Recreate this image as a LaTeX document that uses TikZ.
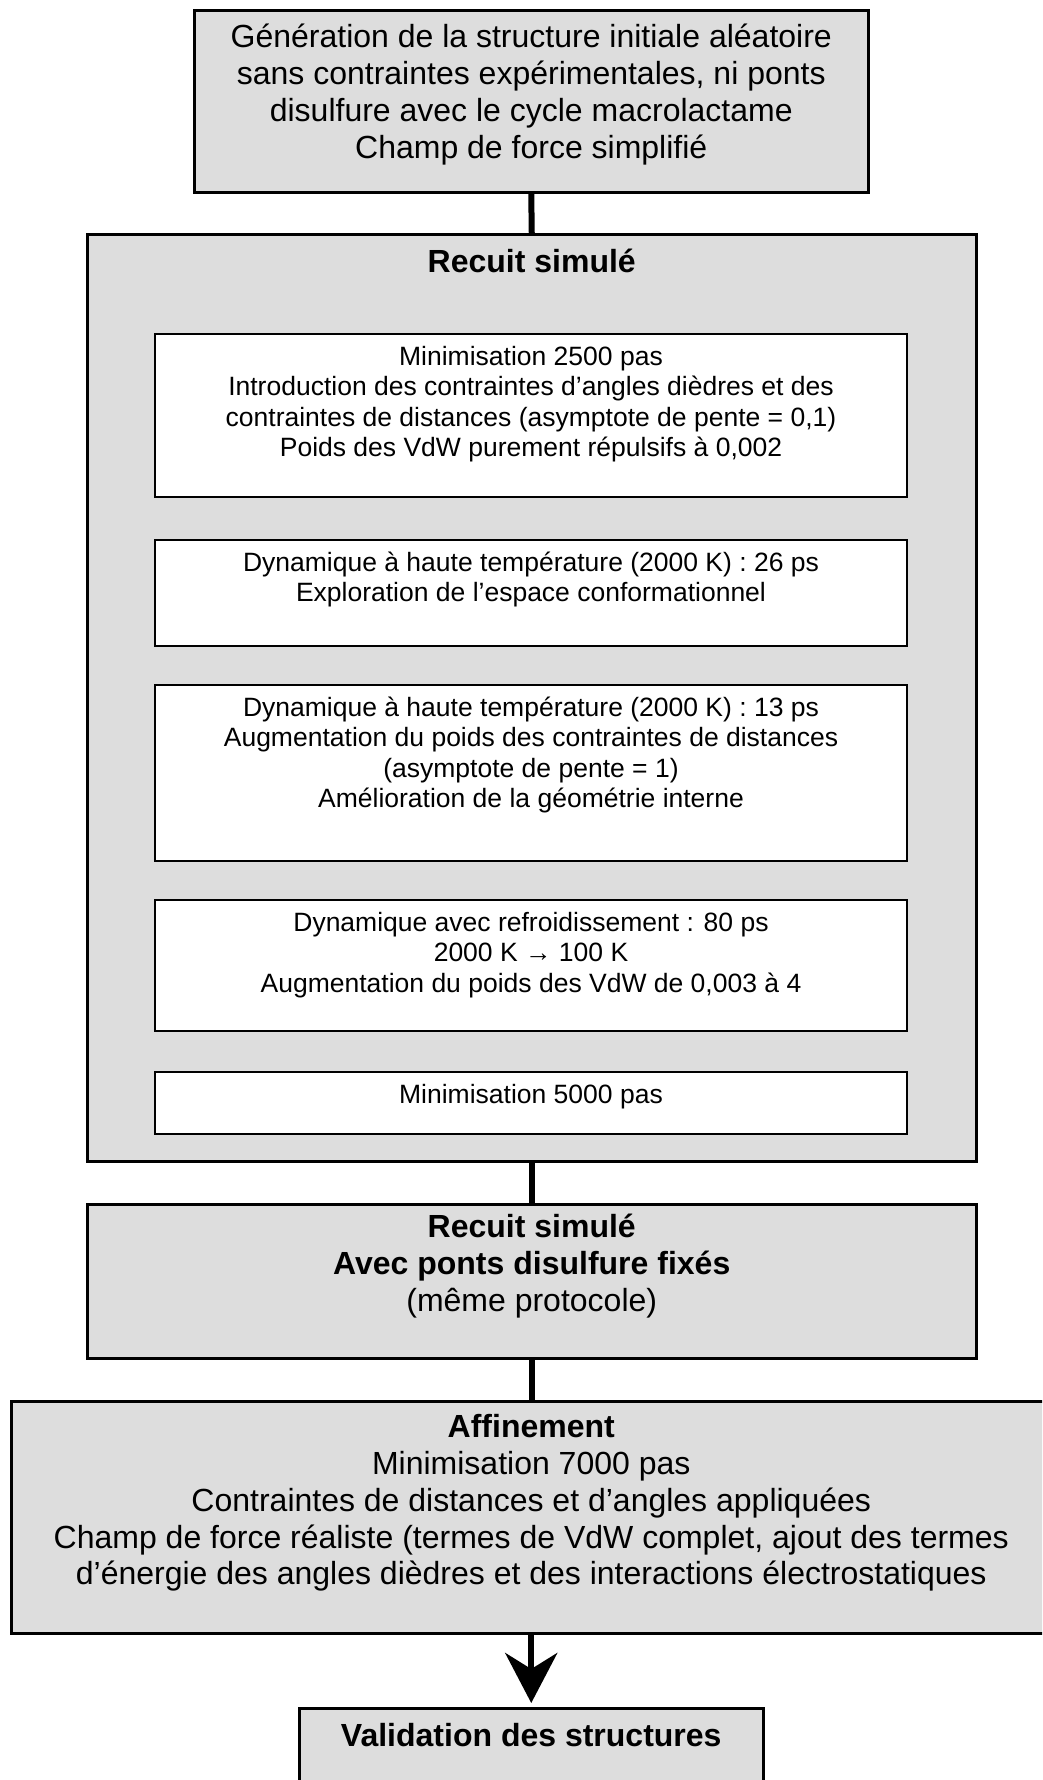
\documentclass[tikz,border=0pt]{standalone}
\usepackage{fontspec}
\setmainfont{Liberation Sans}
\usepackage{tikz}
\usetikzlibrary{arrows.meta, positioning, calc}
\usepackage{xcolor}
\definecolor{boxgray}{HTML}{DDDDDD}

\begin{document}
\begin{tikzpicture}[x=1pt, y=-1pt,
    outerbox/.style={draw=black, line width=2.5pt, fill=boxgray, inner sep=0pt, anchor=north west},
    innerbox/.style={draw=black, line width=2pt, fill=white, inner sep=0pt, anchor=north west},
    bigtext/.style={align=center, inner sep=0pt, anchor=north, font=\fontsize{32}{36.8}\selectfont, execute at begin node=\strut},
    smalltext/.style={align=center, inner sep=0pt, anchor=north, font=\fontsize{26.5}{30.5}\selectfont, execute at begin node=\strut},
    link/.style={line width=6pt}]
        \useasboundingbox (0,0) rectangle (1042,1780);
        \clip (0,0) rectangle (1042,1780);
        % Kaesten
        \node[outerbox, minimum width=674pt, minimum height=182pt] (gen) at (193,9) {};
        \node[outerbox, minimum width=889pt, minimum height=927pt] (recuit) at (86,233) {};
        \node[innerbox, minimum width=752pt, minimum height=163pt] (mini1) at (154,333) {};
        \node[innerbox, minimum width=752pt, minimum height=106pt] (dyn1) at (154,539) {};
        \node[innerbox, minimum width=752pt, minimum height=176pt] (dyn2) at (154,684) {};
        \node[innerbox, minimum width=752pt, minimum height=131pt] (refr) at (154,899) {};
        \node[innerbox, minimum width=752pt, minimum height=62pt] (mini2) at (154,1071) {};
        \node[outerbox, minimum width=889pt, minimum height=154pt] (recuit2) at (86,1203) {};
        \node[outerbox, minimum width=1040pt, minimum height=232pt] (affin) at (10,1400) {};
        \node[outerbox, minimum width=464pt, minimum height=120pt] (valid) at (298,1707) {};
        % Verbindungen
        \draw[link] (gen.south) -- (recuit.north);
        \draw[link] (recuit.south) -- (recuit2.north);
        \draw[link] (recuit2.south) -- (recuit2.south |- affin.north);
        \draw[link, -{Stealth[length=50pt, width=52pt, inset=16pt]}, shorten >=4pt] (valid.north |- affin.south) -- (valid.north);
        % Texte (erste Grundlinie unter der Oberkante)
        \node[bigtext] (gen-txt) at ([yshift=-15.2pt]gen.north) {G\'en\'eration de la structure initiale al\'eatoire\\sans contraintes exp\'erimentales, ni ponts\\disulfure avec le cycle macrolactame\\Champ de force simplifi\'e};
        \node[bigtext, font=\fontsize{32}{36.8}\selectfont\bfseries] (recuit-txt) at ([yshift=-13.2pt]recuit.north) {Recuit simul\'e};
        \node[smalltext] (mini1-txt) at ([yshift=-12.6pt]mini1.north) {Minimisation 2500 pas\\Introduction des contraintes d’angles di\`edres et des\\contraintes de distances (asymptote de pente = 0,1)\\Poids des VdW purement r\'epulsifs \`a 0,002};
        \node[smalltext] (dyn1-txt) at ([yshift=-12.6pt]dyn1.north) {Dynamique \`a haute temp\'erature (2000 K) : 26 ps\\Exploration de l’espace conformationnel};
        \node[smalltext] (dyn2-txt) at ([yshift=-12.6pt]dyn2.north) {Dynamique \`a haute temp\'erature (2000 K) : 13 ps\\Augmentation du poids des contraintes de distances\\(asymptote de pente = 1)\\Am\'elioration de la g\'eom\'etrie interne};
        \node[smalltext] (refr-txt) at ([yshift=-12.6pt]refr.north) {Dynamique avec refroidissement : 80 ps\\2000 K → 100 K\\Augmentation du poids des VdW de 0,003 \`a 4};
        \node[smalltext] (mini2-txt) at ([yshift=-10.6pt]mini2.north) {Minimisation 5000 pas};
        \node[bigtext] (recuit2-txt) at ([yshift=-11.2pt]recuit2.north) {\textbf{Recuit simul\'e}\\\textbf{Avec ponts disulfure fix\'es}\\(m\^eme protocole)};
        \node[bigtext] (affin-txt) at ([yshift=-14.2pt]affin.north) {\textbf{Affinement}\\Minimisation 7000 pas\\Contraintes de distances et d’angles appliqu\'ees\\Champ de force r\'ealiste (termes de VdW complet, ajout des termes\\d’\'energie des angles di\`edres et des interactions \'electrostatiques};
        \node[bigtext, font=\fontsize{32}{36.8}\selectfont\bfseries] (valid-txt) at ([yshift=-13.2pt]valid.north) {Validation des structures};
      \end{tikzpicture}
\end{document}
